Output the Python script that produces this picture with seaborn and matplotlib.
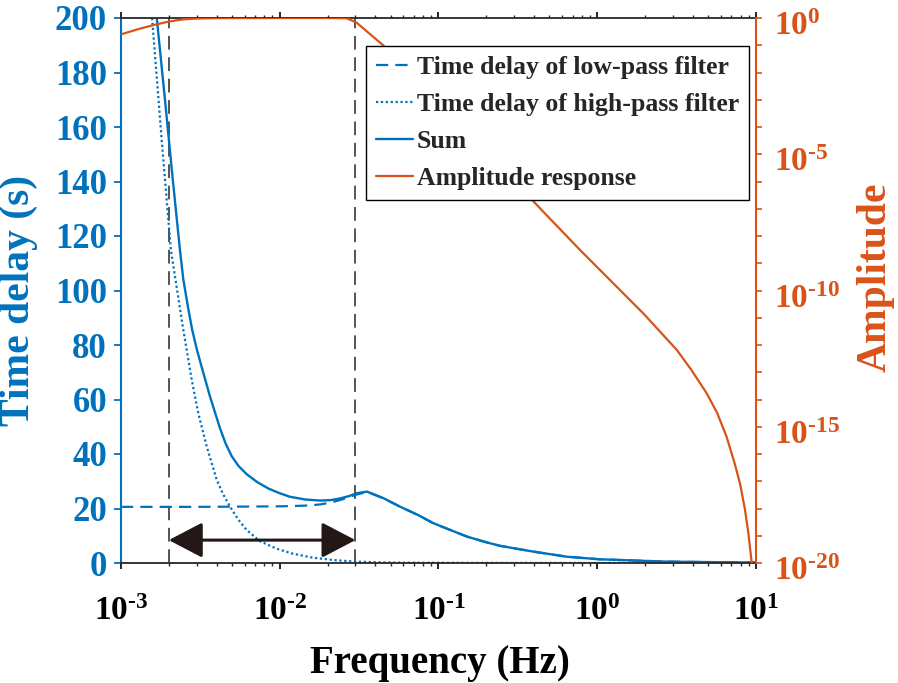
import numpy as np
import pandas as pd
import matplotlib
matplotlib.use("Agg")
import matplotlib.pyplot as plt
import matplotlib.transforms as mtransforms
import seaborn as sns
from matplotlib.ticker import FuncFormatter, NullFormatter, LogLocator, NullLocator

# ---------------- data ----------------
freq_lp = [1e-3, 3e-3, 6e-3, 0.01, 0.0121, 0.015, 0.018, 0.021, 0.024, 0.027, 0.03,
           0.0355, 0.045, 0.0571, 0.075, 0.092, 0.12, 0.151, 0.2, 0.244, 0.394, 0.645,
           1.04, 2.75, 10]
delay_lp = [20.6, 20.6, 20.7, 20.8, 20.9, 21.1, 21.5, 22.2, 23.1, 24.1, 25.0,
            26.1, 23.7, 20.7, 17.5, 14.7, 12.0, 9.7, 7.6, 6.3, 4.2, 2.3,
            1.35, 0.5, 0.15]

freq_hp = [1.57e-3, 1.8e-3, 2.06e-3, 2.47e-3, 2.79e-3, 3.07e-3, 3.47e-3, 4.01e-3, 4.4e-3,
           4.86e-3, 5.5e-3, 6.19e-3, 7.5e-3, 9.5e-3, 0.0121, 0.016, 0.0216, 0.03, 0.045,
           0.07, 0.15, 0.5, 2, 10]
delay_hp = [200, 156, 115, 85.5, 67.2, 54.9, 42.7, 30.5, 25.2,
            20.7, 15.8, 12.1, 8.0, 5.3, 3.4, 2.0, 1.1, 0.5, 0.2,
            0.1, 0.05, 0.02, 0.01, 0.0]

freq_sum = [1.68e-3, 1.9e-3, 2.1e-3, 2.35e-3, 2.47e-3, 2.65e-3, 2.81e-3, 3.0e-3, 3.22e-3,
            3.64e-3, 4.2e-3, 4.55e-3, 4.98e-3, 5.5e-3, 6.19e-3, 7.2e-3, 8.5e-3, 0.0100,
            0.0116, 0.0145, 0.018, 0.021, 0.024, 0.0275, 0.0305, 0.0355, 0.045, 0.0571,
            0.075, 0.092, 0.12, 0.151, 0.2, 0.244, 0.394, 0.645, 1.04, 2.75, 10]
delay_sum = [200, 169, 143, 115, 104, 93.5, 85.5, 78.5, 72.0,
             61.0, 49.5, 44.0, 39.2, 35.6, 32.6, 29.7, 27.3, 25.6,
             24.3, 23.3, 22.9, 23.1, 23.7, 24.6, 25.6, 26.2, 23.8, 20.7,
             17.5, 14.7, 12.0, 9.7, 7.6, 6.3, 4.2, 2.3, 1.35, 0.5, 0.15]

freq_amp = [1e-3, 1.3e-3, 1.6e-3, 2e-3, 2.46e-3, 3e-3, 4e-3, 0.01, 0.02, 0.0264, 0.0305,
            0.0355, 0.0446, 0.06, 0.1, 0.2, 0.3, 0.416, 0.778, 1.2, 1.95, 3.17, 3.9, 4.89,
            5.7, 6.53, 7.3, 7.93, 8.5, 8.95, 9.4, 9.55]
amp_exponent = [-0.6, -0.4, -0.26, -0.13, -0.05, -0.02, -0.005, 0.0, 0.0, -0.01, -0.17,
                -0.5, -0.99, -1.76, -3.09, -4.9, -5.96, -6.86, -8.51, -9.61, -10.84, -12.18,
                -12.9, -13.77, -14.5, -15.37, -16.3, -17.08, -18.0, -18.9, -20.0, -22.5]

band_edges = [0.002, 0.03]
arrow_delay = 8.4

x_tick_exponents = [-3, -2, -1, 0, 1]
left_ticks = [0, 20, 40, 60, 80, 100, 120, 140, 160, 180, 200]
right_tick_exponents = list(range(-20, 1))
right_label_exponents = [-20, -15, -10, -5, 0]

series_labels = ["Time delay of low-pass filter", "Time delay of high-pass filter",
                 "Sum", "Amplitude response"]
x_label = "Frequency (Hz)"
left_label = "Time delay (s)"
right_label = "Amplitude"

BLUE = "#0072BD"
ORANGE = "#D95319"
DARK = "#262626"


def pow_label(e):
    if e < 0:
        return r"$\mathbf{10^{\text{-}%d}}$" % (-e)
    return r"$\mathbf{10^{%d}}$" % e


# ---------------- style ----------------
sns.set_theme(style="ticks")
plt.rcParams["font.family"] = ["Liberation Serif", "DejaVu Serif"]
plt.rcParams["font.weight"] = "bold"
plt.rcParams["axes.labelweight"] = "bold"
plt.rcParams["mathtext.fontset"] = "custom"
plt.rcParams["mathtext.rm"] = "Liberation Serif:bold"
plt.rcParams["mathtext.bf"] = "Liberation Serif:bold"
plt.rcParams["mathtext.it"] = "Liberation Serif:bold:italic"

W, H = 898, 683
fig = plt.figure(figsize=(W / 100, H / 100), dpi=100)
L, R, T, B = 121, 756, 18, 563
ax = fig.add_axes([L / W, 1 - B / H, (R - L) / W, (B - T) / H])
ax.set_xscale("log")
ax.set_xlim(1e-3, 1e1)
ax.set_ylim(0, 200)

df_lp = pd.DataFrame({"f": freq_lp, "d": delay_lp})
df_hp = pd.DataFrame({"f": freq_hp, "d": delay_hp})
df_sum = pd.DataFrame({"f": freq_sum, "d": delay_sum})
df_amp = pd.DataFrame({"f": freq_amp, "a": 10.0 ** np.array(amp_exponent)})

sns.lineplot(data=df_lp, x="f", y="d", ax=ax, color=BLUE, lw=1.6,
             linestyle=(0, (5.5, 3.2)), label=series_labels[0], sort=False)
sns.lineplot(data=df_hp, x="f", y="d", ax=ax, color=BLUE, lw=1.6,
             linestyle=(0, (1, 1.2)), label=series_labels[1], sort=False)
sns.lineplot(data=df_sum, x="f", y="d", ax=ax, color=BLUE, lw=1.7,
             label=series_labels[2], sort=False)
for ln in ax.get_lines():
    ln.set_solid_joinstyle("round")
    ln.set_dash_joinstyle("round")
if ax.get_legend() is not None:
    ax.get_legend().remove()

for xv in band_edges:
    ax.axvline(xv, color=DARK, lw=1.1, linestyle=(0, (9, 5)), zorder=1)

ax.annotate("", xy=(band_edges[1], arrow_delay), xytext=(band_edges[0], arrow_delay),
            arrowprops=dict(arrowstyle="<|-|>,head_length=1.05,head_width=0.55",
                            mutation_scale=20, color="#231815", lw=2.2,
                            shrinkA=0, shrinkB=0))

# axes styling (left)
fmt = FuncFormatter(lambda v, p: pow_label(int(round(np.log10(v)))))
ax.set_xticks([10.0 ** e for e in x_tick_exponents])
ax.xaxis.set_major_formatter(fmt)
ax.xaxis.set_minor_locator(LogLocator(base=10, subs=np.arange(2, 10), numticks=100))
ax.xaxis.set_minor_formatter(NullFormatter())
ax.set_yticks(left_ticks)
ax.tick_params(axis="x", which="major", direction="out", length=4.5, width=1.2,
               top=True, labelsize=24, pad=19, colors="black")
ax.tick_params(axis="x", which="minor", direction="out", length=2.5, width=1.0, top=True,
               colors=DARK)
ax.tick_params(axis="y", which="major", direction="out", length=5, width=1.3,
               colors=BLUE, labelsize=25, pad=5, right=False)
for s in ("top", "bottom"):
    ax.spines[s].set_color(DARK)
    ax.spines[s].set_linewidth(1.3)
ax.spines["left"].set_color(BLUE)
ax.spines["left"].set_linewidth(1.5)
ax.spines["right"].set_visible(False)

ax.set_xlabel(x_label, fontsize=28, fontweight="bold", color="black")
ax.xaxis.label.set(va="center", ha="center")
ax.xaxis.set_label_coords((440 - L) / (R - L), (B - 663) / (B - T))
ax.set_ylabel(left_label, fontsize=30, fontweight="bold", color=BLUE)
ax.yaxis.label.set(va="center", ha="center", rotation_mode="default")
ax.yaxis.set_label_coords((19 - L) / (R - L), (B - 300) / (B - T))

# right axis: amplitude
ax2 = ax.twinx()
ax2.set_yscale("log")
sns.lineplot(data=df_amp, x="f", y="a", ax=ax2, color=ORANGE, lw=1.6,
             label=series_labels[3], sort=False)
for ln in ax2.get_lines():
    ln.set_solid_joinstyle("round")
if ax2.get_legend() is not None:
    ax2.get_legend().remove()
ax2.set_xlim(1e-3, 1e1)
ax2.set_ylim(1e-20, 1e0)
ax2.set_yticks([10.0 ** e for e in right_tick_exponents])
ax2.set_yticklabels([pow_label(e) if e in right_label_exponents else ""
                     for e in right_tick_exponents])
ax2.yaxis.set_minor_locator(NullLocator())
ax2.tick_params(axis="y", which="major", direction="out", length=4, width=1.2,
                colors=ORANGE, labelsize=24, pad=9)
shift_down = mtransforms.ScaledTranslation(0, -0.05, fig.dpi_scale_trans)
for tick in ax2.yaxis.get_major_ticks():
    tick.label2.set_transform(tick.label2.get_transform() + shift_down)
for s in ("left", "top", "bottom"):
    ax2.spines[s].set_visible(False)
ax2.spines["right"].set_color(ORANGE)
ax2.spines["right"].set_linewidth(1.5)
ax2.set_xlabel("")
ax2.set_ylabel(right_label, fontsize=30, fontweight="bold", color=ORANGE)
ax2.yaxis.label.set(va="center", ha="center", rotation_mode="default", rotation=90)
ax2.yaxis.set_label_coords((876 - L) / (R - L), (B - 277) / (B - T))

# legend
h1, l1 = ax.get_legend_handles_labels()
h2, l2 = ax2.get_legend_handles_labels()
leg = ax2.legend(h1 + h2, l1 + l2, loc="upper left",
                 bbox_to_anchor=(366 / W, 1 - 46 / H), bbox_transform=fig.transFigure,
                 borderaxespad=0, frameon=True, fancybox=False,
                 framealpha=1, edgecolor="black", handlelength=1.45, handletextpad=0.15,
                 labelspacing=0.55, borderpad=0.38, prop={"weight": "bold", "size": 18.5})
leg.get_frame().set_linewidth(1.0)
leg.set_zorder(10)

fig.savefig("out.png", dpi=100)
